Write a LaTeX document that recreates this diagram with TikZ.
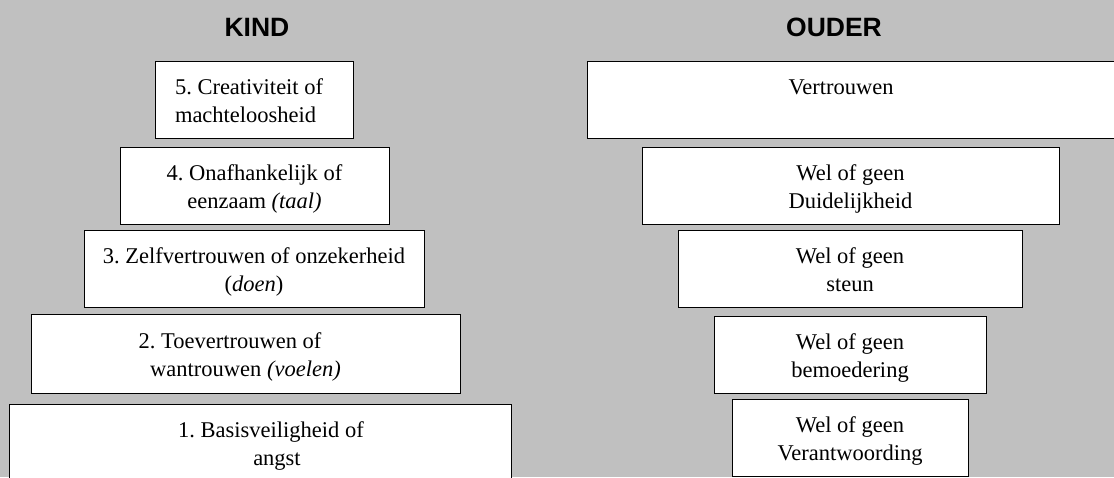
\documentclass[tikz,border=0pt]{standalone}
\usepackage{fontspec}
\setmainfont{Liberation Serif}
\newfontfamily\kopfont{Liberation Sans}
\definecolor{achtergrond}{RGB}{192,192,192}
% two lines, first baseline near the top of the box
\newcommand{\regels}[2]{\rule{0pt}{24pt}#1\\#2\rule[-6pt]{0pt}{6pt}}
\frenchspacing

\begin{document}
\begin{tikzpicture}[x=1pt, y=-1pt,
    laag/.style={draw=black, fill=white, line width=1pt, inner sep=0pt,
      minimum height=77pt, align=center, font=\fontsize{22.5}{28}\selectfont},
    kop/.style={font=\kopfont\bfseries\fontsize{26.5}{30}\selectfont, anchor=base}]
  \fill [achtergrond] (0,0) rectangle (1114,477);
  \useasboundingbox (0,0) rectangle (1114,477);
  % koppen
  \node [kop] (kind) at (257,36) {KIND};
  \node [kop] (ouder) at (834,36) {OUDER};
  % kind
  \node [laag, minimum width=502pt] (k1) at (260,442.5)
    {\regels{\rule{22pt}{0pt}1. Basisveiligheid of}{\rule{34pt}{0pt}angst}};
  \node [laag, minimum width=429pt, minimum height=79pt] (k2) at (245.5,353.5)
    {\regels{2. Toevertrouwen of\rule{31pt}{0pt}}{wantrouwen \textit{(voelen)}}};
  \node [laag, minimum width=340pt] (k3) at (254,268.5)
    {\regels{3. Zelfvertrouwen of onzekerheid}{(\textit{doen})}};
  \node [laag, minimum width=269pt] (k4) at (254.5,185.5)
    {\regels{4. Onafhankelijk of}{eenzaam \textit{(taal)}}};
  \node [laag, align=flush left, text width=158pt, inner xsep=20pt] (k5) at (254,99.5)
    {\regels{5. Creativiteit of}{machteloosheid}};
  % ouder
  \node [laag, minimum width=236pt] (o1) at (850,437.5) {\regels{Wel of geen}{Verantwoording}};
  \node [laag, minimum width=272pt] (o2) at (850,354.5) {\regels{Wel of geen}{bemoedering}};
  \node [laag, minimum width=344pt] (o3) at (850,268.5) {\regels{Wel of geen}{steun}};
  \node [laag, minimum width=417pt] (o4) at (850.5,185.5) {\regels{Wel of geen}{Duidelijkheid}};
  \node [laag, minimum width=543pt] (o5) at (858.5,99.5)
    {\regels{Vertrouwen\rule{35pt}{0pt}}{\mbox{}}};
\end{tikzpicture}
\end{document}
